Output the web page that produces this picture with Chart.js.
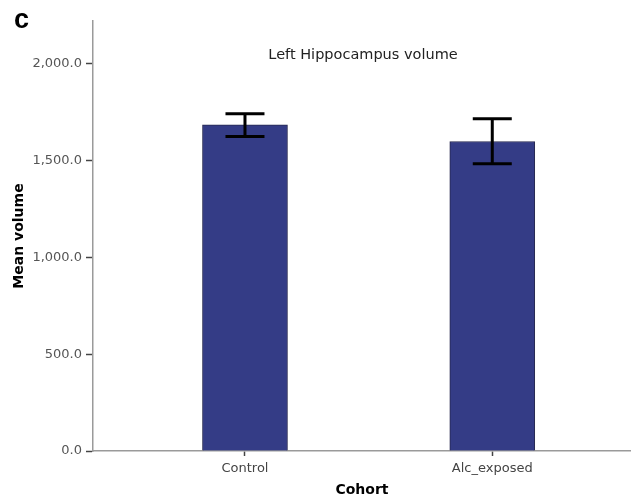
<!DOCTYPE html>
<html>
<head>
<meta charset="utf-8">
<script src="https://cdn.jsdelivr.net/npm/chart.js@4"></script>
<style>
  html, body { margin: 0; padding: 0; background: #ffffff; }
  #wrap { position: relative; width: 631px; height: 501px; }
</style>
</head>
<body>
<div id="wrap"><canvas id="c" width="631" height="501"></canvas></div>
<script>
const categories = ['Control', 'Alc_exposed'];
const meanVolume = [1684, 1598];
const errLow = [1624, 1483];
const errHigh = [1741, 1715];
const yTicks = [0, 500, 1000, 1500, 2000];

const fmt = v => v.toLocaleString('en-US', {minimumFractionDigits: 1, maximumFractionDigits: 1});

const errorBarPlugin = {
  id: 'errorBars',
  afterDatasetsDraw(chart) {
    const ctx = chart.ctx;
    const xs = chart.scales.x, ys = chart.scales.y;
    ctx.save();
    ctx.strokeStyle = '#000000';
    ctx.lineWidth = 3;
    ctx.lineCap = 'butt';
    categories.forEach((c, i) => {
      const x = xs.getPixelForValue(i);
      const yl = ys.getPixelForValue(errLow[i]);
      const yh = ys.getPixelForValue(errHigh[i]);
      const half = 19.5;
      ctx.beginPath();
      ctx.moveTo(x, yl); ctx.lineTo(x, yh);
      ctx.moveTo(x - half, yh); ctx.lineTo(x + half, yh);
      ctx.moveTo(x - half, yl); ctx.lineTo(x + half, yl);
      ctx.stroke();
    });
    ctx.restore();
  }
};

const textPlugin = {
  id: 'extraText',
  afterDraw(chart) {
    const ctx = chart.ctx;
    ctx.save();
    ctx.fillStyle = '#000000';
    ctx.font = 'bold 27px "Liberation Sans", Arial, sans-serif';
    ctx.textAlign = 'left';
    ctx.textBaseline = 'alphabetic';
    ctx.fillText('c', 14, 28);
    ctx.fillStyle = '#222222';
    ctx.font = '14.5px "DejaVu Sans", sans-serif';
    ctx.textAlign = 'center';
    ctx.textBaseline = 'middle';
    ctx.fillText('Left Hippocampus volume', 363, 55);
    ctx.restore();
  }
};

new Chart(document.getElementById('c'), {
  type: 'bar',
  data: {
    datasets: [{
      data: categories.map((c, i) => ({x: i, y: meanVolume[i]})),
      backgroundColor: '#343C86',
      borderColor: '#26284F',
      borderWidth: 1,
      barThickness: 85
    }]
  },
  plugins: [errorBarPlugin, textPlugin],
  options: {
    responsive: false,
    animation: false,
    devicePixelRatio: 1,
    layout: { padding: { left: 0, right: 0, top: 21, bottom: 0 } },
    plugins: { legend: { display: false }, tooltip: { enabled: false }, title: { display: false } },
    scales: {
      x: {
        type: 'linear',
        offset: false,
        min: -0.6146,
        max: 1.561,
        afterBuildTicks: scale => { scale.ticks = categories.map((c, i) => ({value: i})); },
        afterFit: scale => { scale.height = 50; },
        ticks: {
          autoSkip: false,
          maxRotation: 0,
          padding: 5,
          color: '#444444',
          font: { family: '"DejaVu Sans", sans-serif', size: 13 },
          callback: v => categories[v]
        },
        grid: { display: true, offset: false, drawOnChartArea: false, drawTicks: true, tickLength: 5, tickColor: '#444444', tickWidth: 1.5 },
        border: { display: true, color: '#9a9a9a', width: 1.5 },
        title: {
          display: true,
          text: 'Cohort',
          color: '#000000',
          font: { family: '"DejaVu Sans", sans-serif', size: 14, weight: 'bold' },
          padding: { top: 0, bottom: 2 }
        }
      },
      y: {
        min: 0,
        max: 2220,
        afterBuildTicks: scale => { scale.ticks = yTicks.map(v => ({value: v})); },
        afterFit: scale => { scale.width = 93; },
        ticks: {
          padding: 4,
          color: '#555555',
          font: { family: '"DejaVu Sans", sans-serif', size: 13 },
          callback: v => fmt(v)
        },
        grid: { display: true, drawOnChartArea: false, drawTicks: true, tickLength: 7, tickColor: '#444444', tickWidth: 1.5 },
        border: { display: true, color: '#9a9a9a', width: 1.5 },
        title: {
          display: true,
          text: 'Mean volume',
          color: '#000000',
          font: { family: '"DejaVu Sans", sans-serif', size: 14, weight: 'bold' },
          padding: { top: 11, bottom: 0 }
        }
      }
    }
  }
});
</script>
</body>
</html>
